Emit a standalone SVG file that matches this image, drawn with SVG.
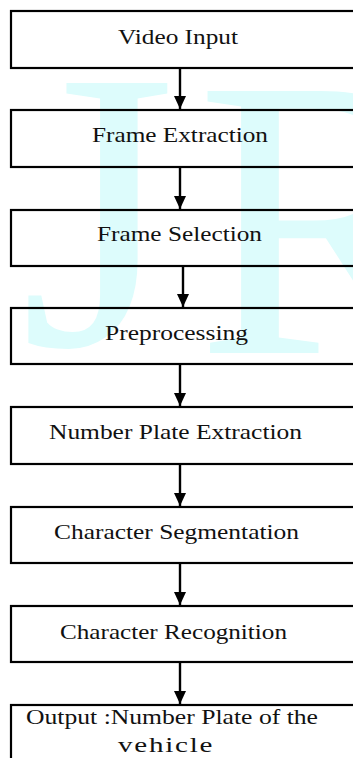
<svg xmlns="http://www.w3.org/2000/svg" width="353" height="758" viewBox="0 0 353 758">
  <defs>
    <style>
      .box { fill: none; stroke: #000000; stroke-width: 2.2; }
      .lbl { font-family: "Liberation Serif", "Times New Roman", serif; font-size: 21.5px; fill: #111111; }
      .wire { stroke: #000000; stroke-width: 2.4; fill: none; }
      .mark { font-family: "Liberation Serif", "Times New Roman", serif; font-size: 400px; fill: #ddfcfc; }
    </style>
    <!-- filled triangular arrowhead, tip at the end of the line -->
    <marker id="head" viewBox="0 0 13 12" refX="13" refY="6" markerWidth="13" markerHeight="12" markerUnits="userSpaceOnUse" orient="auto">
      <path d="M0,0 L13,6 L0,12 Z" fill="#000000"/>
    </marker>
  </defs>

  <rect width="353" height="758" fill="#ffffff"/>

  <!-- pale background watermark -->
  <g id="watermark">
    <text class="mark" x="20" y="345">J</text>
    <text class="mark" x="196" y="353">R</text>
  </g>

  <g id="connectors">
    <line class="wire" x1="180" y1="68" x2="180" y2="109" marker-end="url(#head)"/>
    <line class="wire" x1="180" y1="167" x2="180" y2="209" marker-end="url(#head)"/>
    <line class="wire" x1="183" y1="266" x2="183" y2="307" marker-end="url(#head)"/>
    <line class="wire" x1="180" y1="364" x2="180" y2="406" marker-end="url(#head)"/>
    <line class="wire" x1="180" y1="464" x2="180" y2="506" marker-end="url(#head)"/>
    <line class="wire" x1="180" y1="563" x2="180" y2="605" marker-end="url(#head)"/>
    <line class="wire" x1="180" y1="662" x2="180" y2="704" marker-end="url(#head)"/>
  </g>

  <g id="video-input">
    <rect class="box" x="11" y="11" width="360" height="57"/>
    <text class="lbl" x="118" y="43.5" textLength="120" lengthAdjust="spacingAndGlyphs">Video Input</text>
  </g>

  <g id="frame-extraction">
    <rect class="box" x="11" y="110" width="360" height="57"/>
    <text class="lbl" x="92" y="141.5" textLength="176" lengthAdjust="spacingAndGlyphs">Frame Extraction</text>
  </g>

  <g id="frame-selection">
    <rect class="box" x="11" y="210" width="360" height="56"/>
    <text class="lbl" x="97" y="240.5" textLength="165" lengthAdjust="spacingAndGlyphs">Frame Selection</text>
  </g>

  <g id="preprocessing">
    <rect class="box" x="11" y="308" width="360" height="56"/>
    <text class="lbl" x="105" y="339.5" textLength="143" lengthAdjust="spacingAndGlyphs">Preprocessing</text>
  </g>

  <g id="plate-extraction">
    <rect class="box" x="11" y="407" width="360" height="57"/>
    <text class="lbl" x="49" y="439" textLength="253" lengthAdjust="spacingAndGlyphs">Number Plate Extraction</text>
  </g>

  <g id="char-segmentation">
    <rect class="box" x="11" y="507" width="360" height="56"/>
    <text class="lbl" x="54" y="538.5" textLength="245" lengthAdjust="spacingAndGlyphs">Character Segmentation</text>
  </g>

  <g id="char-recognition">
    <rect class="box" x="11" y="606" width="360" height="56"/>
    <text class="lbl" x="60" y="638.5" textLength="227" lengthAdjust="spacingAndGlyphs">Character Recognition</text>
  </g>

  <g id="output">
    <rect class="box" x="11" y="705" width="360" height="100"/>
    <text class="lbl" x="26" y="723.5" textLength="292" lengthAdjust="spacingAndGlyphs">Output :Number Plate of the</text>
    <!-- second line: widened glyphs, remaining width taken up by spacing -->
    <g transform="translate(118,0) scale(1.35,1)">
      <text class="lbl" x="0" y="752.5" textLength="70" lengthAdjust="spacing">vehicle</text>
    </g>
  </g>
</svg>
